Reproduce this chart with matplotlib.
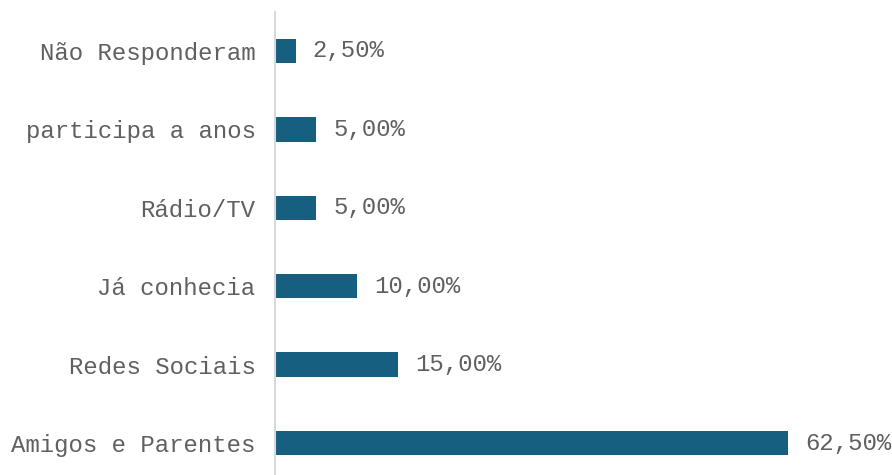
import matplotlib
matplotlib.use("Agg")
import matplotlib.pyplot as plt

categories = ["Amigos e Parentes", "Redes Sociais", "Já conhecia",
              "Rádio/TV", "participa a anos", "Não Responderam"]
values = [62.5, 15.0, 10.0, 5.0, 5.0, 2.5]

barColor = "#165f80"
textColor = "#606060"
fontName = "Liberation Mono"

fig = plt.figure(figsize=(8.92, 4.75), dpi=100)
ax = fig.add_axes([275 / 892, 0, 1 - 275 / 892, (475 - 12) / 475])

pos = list(range(len(categories)))
ax.barh(pos, values, height=0.31, color=barColor)

for p, v in zip(pos, values):
    label = f"{v:.2f}".replace(".", ",") + "%"
    ax.text(v + 2.1, p, label, va="center", ha="left",
            fontsize=17.3, color=textColor, family=fontName)

ax.set_xlim(0, 75.2)
ax.set_ylim(-0.408, 5.497)
ax.set_yticks(pos)
ax.set_yticklabels(categories, fontsize=17.3, color=textColor, family=fontName)
ax.tick_params(axis="y", length=0, pad=14)
ax.set_xticks([])

for side in ["top", "right", "bottom"]:
    ax.spines[side].set_visible(False)
ax.spines["left"].set_color("#d9d9d9")
ax.spines["left"].set_linewidth(1.5)

fig.savefig("out.png", dpi=100)
